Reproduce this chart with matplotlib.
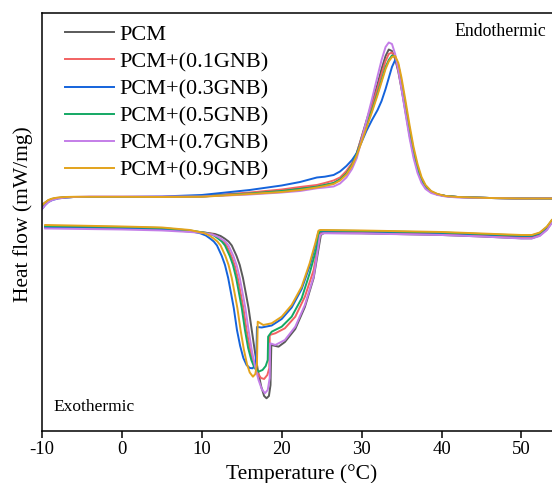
import matplotlib
matplotlib.use("Agg")
import matplotlib.pyplot as plt

plt.rcParams['font.family'] = ['Liberation Serif', 'DejaVu Serif']
plt.rcParams['axes.unicode_minus'] = False

labels = ['PCM', 'PCM+(0.1GNB)', 'PCM+(0.3GNB)', 'PCM+(0.5GNB)', 'PCM+(0.7GNB)', 'PCM+(0.9GNB)']
colors = ['#5a5a5a', '#f26262', '#1463dc', '#14a864', '#c47ee8', '#e3a31c']

# heating scan (endothermic, upper curves) - arbitrary heat flow units
T_heat = [-10, -9.6, -9.2, -8.7, -8, -7, -6, -4, 0, 5, 10, 16, 20, 22.3, 24.4, 25.4, 26.5, 27.3, 28.1, 28.8,
          29.4, 30.0, 30.6, 31.3, 32.0, 32.5, 33.0, 33.4, 33.8, 34.2, 34.6, 35.0, 35.5, 36.0, 36.5, 37.0,
          37.5, 38.0, 38.7, 39.5, 40.5, 42, 46, 50, 53.8]
heat_pcm = [-5, -2.5, -0.5, 1, 2, 2.7, 3, 3, 3, 3, 3.5, 6.5, 9, 12, 13.3, 15, 16.7, 20.5, 26.7, 35,
            47, 63, 79, 97, 116, 131, 144, 150.5, 149, 141, 128, 111, 88, 65, 45, 30,
            19, 12.5, 8, 5.5, 4, 3, 2, 1.5, 1.5]
heat_01 = [-6, -3, -0.5, 1, 2, 2.7, 3, 3, 3, 3, 4, 7.5, 10.5, 13, 15, 17, 19.5, 22.5, 29, 37,
           47, 62, 77, 94, 112, 126, 139, 146, 147.5, 142, 130, 113, 90, 67, 47, 31,
           20, 13, 8, 5.5, 4, 3, 2, 1.5, 1.5]
heat_03 = [-9, -5, -2, 0, 1.5, 2.5, 3, 3, 3, 3.5, 5, 10, 14.5, 18, 22.5, 23.3, 25, 28.5, 34, 40,
           47, 58, 69, 80, 90, 99, 111, 122, 133, 140, 135, 118, 94, 70, 49, 32,
           20.5, 13.5, 8.5, 5.5, 4, 3, 2, 1.5, 1.5]
heat_05 = [-6, -3, -0.5, 1, 2, 2.7, 3, 3, 3, 3, 3.5, 6.5, 9, 11, 13.3, 15, 17, 20.5, 26.5, 35,
           46, 60, 74, 90, 107, 120, 133, 140, 144.5, 143.5, 134, 118, 95, 71, 50, 33,
           21, 14, 8.5, 5.5, 4, 3, 2, 1.5, 1.2]
heat_07 = [-9, -5, -2, 0, 1.5, 2.5, 3, 3.5, 3.5, 3.5, 3.5, 5.5, 7.5, 9, 11.7, 12.5, 13.5, 16.5, 22.5, 31,
           42, 60, 79, 101, 124, 140, 153, 157.5, 156, 146, 130, 111, 86, 62, 42, 27,
           17, 11, 7, 5, 3.5, 2.5, 2, 1.5, 1.5]
heat_09 = [-5, -2.5, 0, 1.5, 2.5, 3, 3.2, 3.2, 3.2, 3, 3.2, 6, 8, 10, 12.5, 14, 16, 19.5, 25.5, 34,
           45, 58, 72, 88, 105, 118, 131, 138.5, 143, 144, 137, 122, 99, 75, 53, 36,
           23, 15, 9, 6, 4, 3, 2, 1.5, 1.5]

# cooling scan (exothermic, lower curves)
T_cool_pcm = [-9.6, 0, 5, 8.5, 10.5, 11.65, 12.35, 12.85, 13.35, 13.75, 14.35, 14.75, 15.15, 15.55, 15.85,
              16.25, 16.65, 17.05, 17.45, 17.8, 18.1, 18.4, 18.6, 18.7, 19.6, 20.4, 21.7, 22.9, 24.0, 24.9,
              25.3, 30, 40, 45, 50, 51.3, 52.3, 53.2, 53.8]
cool_pcm = [-27.5, -28.5, -29.5, -31.5, -32.8, -34, -36, -38.5, -41.5, -45.5, -56, -65, -78, -95, -108,
            -130, -152, -172, -187, -196, -198.3, -196, -185, -145, -146.7, -142, -129, -107, -78, -35,
            -33, -33.3, -35, -36.5, -38.3, -38.3, -35.5, -29.5, -22.5]
T_cool_01 = [-9.6, 0, 5, 8.5, 10.0, 11.0, 11.7, 12.2, 12.7, 13.1, 13.7, 14.1, 14.5, 14.9, 15.2,
             15.6, 16.0, 16.4, 16.9, 17.4, 17.8, 18.2, 18.45, 18.5, 19.2, 20.4, 21.7, 22.9, 24.0, 24.8,
             25.1, 30, 40, 45, 50, 51.3, 52.3, 53.2, 53.8]
cool_01 = [-27, -28, -29, -31, -32.3, -33.3, -35.5, -38.3, -41.5, -45.5, -56, -65, -78, -95, -108,
           -130, -148, -161, -172, -178, -179, -175, -168, -135, -133.3, -128.3, -116.7, -96.7, -70, -33.3,
           -32, -32.5, -34, -35.5, -37, -37, -34.5, -28.5, -22]
T_cool_03 = [-9.6, 0, 5, 8.5, 9.8, 10.5, 11.0, 11.5, 11.9, 12.5, 12.9, 13.3, 13.7, 14.0, 14.4, 14.8,
             15.2, 15.6, 16.0, 16.35, 16.7, 16.85, 16.9, 17.5, 18.75, 20.0, 21.25, 22.5, 23.5, 24.2, 24.6,
             24.9, 30, 40, 45, 50, 51.3, 52.3, 53.2, 53.8]
cool_03 = [-27, -28, -29, -31, -33.3, -35.5, -38.3, -41.5, -45.5, -56, -65, -78, -95, -108, -130, -146,
           -158, -165, -168, -168.3, -165, -150, -127, -127.5, -125.5, -119, -107.5, -89, -66, -46, -32,
           -31.5, -31.5, -33, -34.5, -36, -36, -33.5, -27.5, -21]
T_cool_05 = [-9.6, 0, 5, 8.5, 9.8, 10.8, 11.5, 12.0, 12.5, 12.9, 13.5, 13.9, 14.3, 14.7, 15.0, 15.4,
             15.8, 16.2, 16.6, 17.1, 17.6, 18.0, 18.25, 18.3, 18.75, 20.0, 21.25, 22.5, 23.5, 24.4, 24.7,
             25.0, 30, 40, 45, 50, 51.3, 52.3, 53.2, 53.8]
cool_05 = [-26, -27, -28, -30.5, -32, -33.3, -35.5, -38.3, -41.5, -45.5, -56, -65, -78, -95, -108, -130,
           -148, -160, -168, -171.7, -170, -166, -160, -136.7, -131.7, -126.7, -116.7, -98.3, -73.3, -46.7, -31.7,
           -30.5, -31, -32.5, -34, -35.5, -35.5, -33, -27, -20.5]
T_cool_07 = [-9.6, 0, 5, 8.5, 10.3, 11.25, 11.95, 12.45, 12.95, 13.35, 13.95, 14.35, 14.75, 15.15, 15.45,
             15.85, 16.25, 16.65, 17.1, 17.5, 17.9, 18.25, 18.5, 18.55, 19.2, 20.4, 21.7, 22.9, 24.0, 24.8,
             25.2, 30, 40, 45, 50, 51.3, 52.3, 53.2, 53.8]
cool_07 = [-28.5, -29.5, -30.5, -32, -33, -34.5, -36.5, -39, -41.5, -45.5, -56, -65, -78, -95, -108,
           -130, -150, -166, -180, -189, -193.3, -190, -178, -143.3, -145, -140, -126.7, -105, -76.7, -35,
           -33.3, -33.5, -35, -36.5, -38.5, -38.5, -36, -30, -23]
T_cool_09 = [-9.6, 0, 5, 8.5, 10.25, 10.95, 11.45, 11.95, 12.35, 12.95, 13.35, 13.75, 14.15, 14.45, 14.85,
             15.25, 15.65, 16.0, 16.4, 16.7, 16.9, 17.0, 17.7, 18.75, 20.0, 21.25, 22.5, 23.5, 24.2, 24.6,
             24.8, 30, 40, 45, 50, 51.3, 52.3, 53.2, 53.8]
cool_09 = [-25, -26.5, -27.5, -30, -33, -35.5, -38.3, -41.5, -45.5, -56, -65, -78, -95, -108, -130,
           -149, -164, -172.5, -176.7, -174, -165, -121.7, -125, -123.3, -116.7, -105, -86.7, -63.3, -43.3, -30.7,
           -30, -30.5, -32, -33.5, -35, -35, -32.5, -26.5, -20]

heats = [heat_pcm, heat_01, heat_03, heat_05, heat_07, heat_09]
cool_T = [T_cool_pcm, T_cool_01, T_cool_03, T_cool_05, T_cool_07, T_cool_09]
cools = [cool_pcm, cool_01, cool_03, cool_05, cool_07, cool_09]

fig = plt.figure(figsize=(5.52, 4.83), dpi=100)
ax = fig.add_axes([0.0761, 0.1077, 0.9239, 0.8654])

for i in range(6):
    ax.plot(T_heat, heats[i], color=colors[i], lw=1.4, label=labels[i])
    ax.plot(cool_T[i], cools[i], color=colors[i], lw=1.4)

ax.set_xlim(-10, 53.83)
ax.set_ylim(-231, 187)
ax.set_xticks([-10, 0, 10, 20, 30, 40, 50])
ax.set_yticks([])
ax.spines['right'].set_visible(False)
for s in ['left', 'top', 'bottom']:
    ax.spines[s].set_linewidth(1.1)
ax.tick_params(axis='x', direction='out', length=5, width=1.1, labelsize=13.5, pad=2)

ax.set_xlabel('Temperature (°C)', fontsize=15.5)
ax.set_ylabel('Heat flow (mW/mg)', fontsize=15.5)
ax.xaxis.set_label_coords(0.509, -0.079)
ax.yaxis.set_label_coords(-0.0176, 0.52)

ax.text(0.988, 0.955, 'Endothermic', transform=ax.transAxes, ha='right', va='center', fontsize=12.8)
ax.text(0.0216, 0.057, 'Exothermic', transform=ax.transAxes, ha='left', va='center', fontsize=12.5)

ax.legend(loc='upper left', bbox_to_anchor=(0.045, 0.973), frameon=False, fontsize=16,
          handlelength=2.2, handletextpad=0.27, labelspacing=0.3, borderpad=0, borderaxespad=0)

fig.savefig('out.png', dpi=100)
